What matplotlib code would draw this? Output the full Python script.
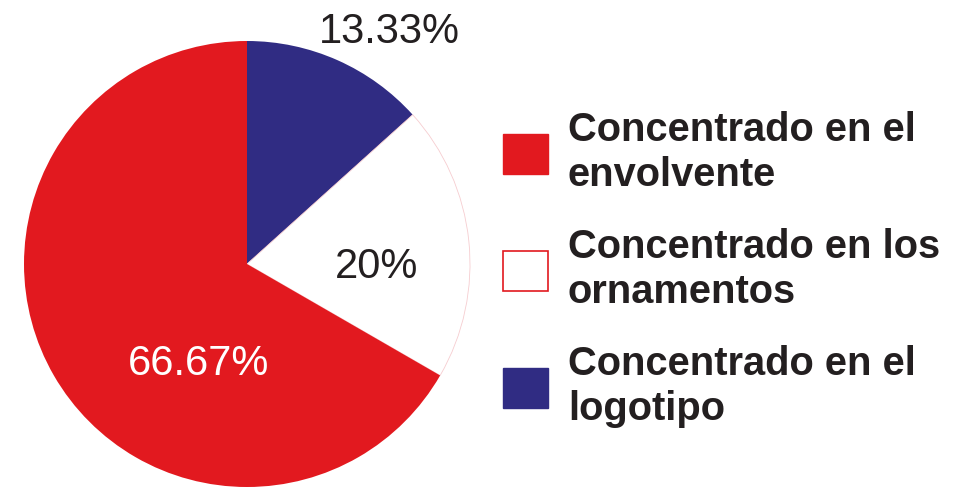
import matplotlib.pyplot as plt
from matplotlib.patches import Patch
import numpy as np

# Data
categories = ["Concentrado en el\nenvolvente",
              "Concentrado en los\nornamentos",
              "Concentrado en el\nlogotipo"]
shares = [66.67, 20, 13.33]
pct_labels = ["66.67%", "20%", "13.33%"]

RED = "#e2191f"
BLUE = "#302c83"
colors = [RED, "white", BLUE]
label_colors = ["white", "#231f20", "#231f20"]
# label placement: (angle in degrees, fraction of radius)
label_pos = [(243, 0.48), (0.5, 0.58), (58.9, 1.24)]

W, H = 960, 487
fig = plt.figure(figsize=(W / 100, H / 100), dpi=100)
ax = fig.add_axes([0, 0, 1, 1])

cx, cy, r = 247, H - 264, 223

# pie drawn clockwise from the top: blue, white, red
order = [2, 1, 0]
wedges, _ = ax.pie([shares[i] for i in order],
                   colors=[colors[i] for i in order],
                   startangle=90, counterclock=False,
                   center=(cx, cy), radius=r,
                   wedgeprops=dict(linewidth=0))
wedges[1].set_edgecolor("#f6cdd0")
wedges[1].set_linewidth(0.6)

for lab, col, (ang, frac) in zip(pct_labels, label_colors, label_pos):
    a = np.deg2rad(ang)
    ax.text(cx + frac * r * np.cos(a), cy + frac * r * np.sin(a), lab,
            ha="center", va="center_baseline", fontsize=30, color=col,
            family="Liberation Sans")

ax.set_xlim(0, W)
ax.set_ylim(0, H)
ax.set_aspect("equal")
ax.axis("off")

handles = [Patch(facecolor=RED, edgecolor=RED),
           Patch(facecolor="white", edgecolor=RED, linewidth=1.2),
           Patch(facecolor=BLUE, edgecolor=BLUE)]
leg = ax.legend(handles, categories, loc="upper left",
                bbox_to_anchor=(503 / W, 1 - 111 / H),
                frameon=False, borderpad=0, borderaxespad=0,
                handlelength=1.13, handleheight=1.17, handletextpad=0.5,
                labelspacing=0.84,
                prop=dict(family="Liberation Sans", weight="bold", size=28.7))
for t in leg.get_texts():
    t.set_color("#231f20")
    t.set_linespacing(1.25)

fig.savefig("out.png", dpi=100)
